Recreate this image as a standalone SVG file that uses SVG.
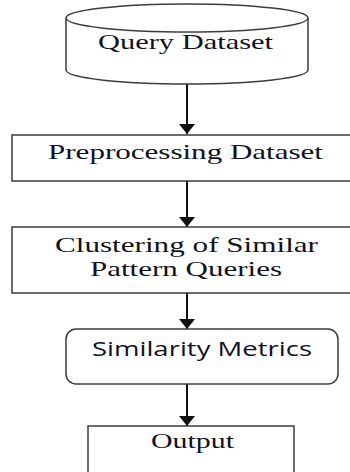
<svg xmlns="http://www.w3.org/2000/svg" width="350" height="472" viewBox="0 0 350 472">
  <style>
    .shape { fill: #ffffff; stroke: #3c3c3c; stroke-width: 1.5; }
    .serif { font-family: "Liberation Serif", "Times New Roman", serif; font-size: 21px; fill: #111122; }
    .sans { font-family: "Open Sans", "Liberation Sans", sans-serif; font-size: 20px; fill: #111122; }
    .link { stroke: #111111; stroke-width: 2; fill: none; }
  </style>
  <defs>
    <marker id="arrowhead" markerUnits="userSpaceOnUse" markerWidth="12" markerHeight="18" refX="10" refY="8" orient="auto">
      <path d="M0,0 L10,8 L0,16 Z" fill="#111111"/>
    </marker>
  </defs>
  <rect width="350" height="472" fill="#ffffff"/>

  <g id="connectors">
    <line class="link" x1="187" y1="84" x2="187" y2="134" marker-end="url(#arrowhead)"/>
    <line class="link" x1="187" y1="181" x2="187" y2="227" marker-end="url(#arrowhead)"/>
    <line class="link" x1="187" y1="293" x2="187" y2="329" marker-end="url(#arrowhead)"/>
    <line class="link" x1="187" y1="384" x2="187" y2="426" marker-end="url(#arrowhead)"/>
  </g>

  <g id="query-dataset">
    <path class="shape" d="M66,18 L66,70 A121,14 0 0 0 308,70 L308,18"/>
    <ellipse class="shape" cx="187" cy="18" rx="121" ry="14"/>
    <text class="serif" x="98" y="49" textLength="175" lengthAdjust="spacingAndGlyphs">Query Dataset</text>
  </g>

  <g id="preprocessing">
    <rect class="shape" x="12" y="135" width="345" height="46"/>
    <text class="serif" x="48" y="159" textLength="275" lengthAdjust="spacingAndGlyphs">Preprocessing Dataset</text>
  </g>

  <g id="clustering">
    <rect class="shape" x="12" y="227" width="345" height="66"/>
    <text class="serif" x="55" y="252" textLength="263" lengthAdjust="spacingAndGlyphs">Clustering of Similar</text>
    <text class="serif" x="90" y="276" textLength="192" lengthAdjust="spacingAndGlyphs">Pattern Queries</text>
  </g>

  <g id="similarity-metrics">
    <rect class="shape" x="66" y="329" width="272" height="55" rx="10" ry="10"/>
    <text class="sans" x="92" y="356" textLength="220" lengthAdjust="spacingAndGlyphs">Similarity Metrics</text>
  </g>

  <g id="output">
    <rect class="shape" x="88" y="426" width="206" height="60"/>
    <text class="serif" x="151" y="448" textLength="83" lengthAdjust="spacingAndGlyphs">Output</text>
  </g>
</svg>
